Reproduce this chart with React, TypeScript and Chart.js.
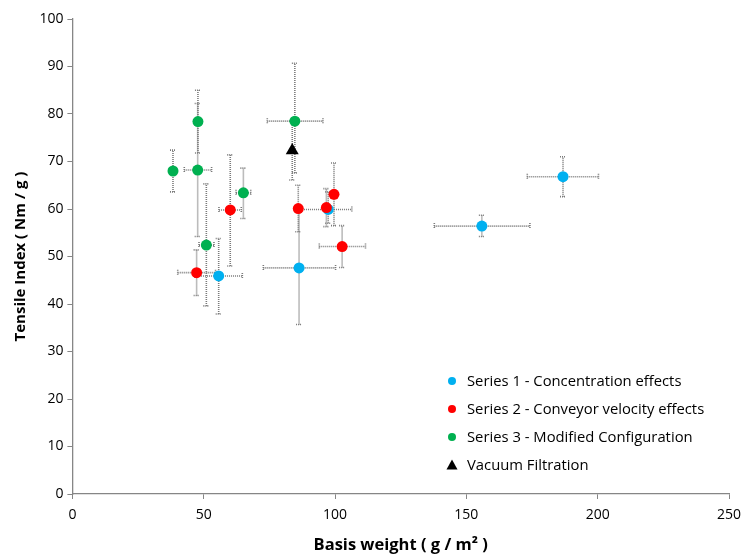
import React, { useEffect, useRef } from "react";
import { Chart, registerables } from "chart.js";

Chart.register(...registerables);

// ---- Data ----
// Series 1 - Concentration effects
const s1X = [186.8, 155.9, 86.3, 55.7, 97.4];
const s1Y = [66.8, 56.4, 47.6, 45.9, 59.9];
const s1XMin = [173.2, 137.8, 72.7, 46.7, 87.4];
const s1XMax = [200.3, 174.2, 100.2, 64.7, 106.4];
const s1YMin = [62.6, 54.2, 35.7, 37.9, 57.0];
const s1YMax = [71.0, 58.7, 59.5, 53.8, 63.6];

// Series 2 - Conveyor velocity effects
const s2X = [47.3, 60.1, 86.0, 96.7, 99.6, 102.7];
const s2Y = [46.6, 59.8, 60.1, 60.3, 63.1, 52.1];
const s2XMin = [40.1, 55.8, 85.0, 95.7, 98.6, 94.0];
const s2XMax = [54.5, 64.3, 87.0, 97.7, 100.6, 111.6];
const s2YMin = [41.8, 48.0, 55.2, 56.3, 56.5, 47.7];
const s2YMax = [51.4, 71.4, 65.0, 64.3, 69.7, 56.5];

// Series 3 - Modified Configuration
const s3X = [38.3, 47.7, 47.8, 51.0, 65.1, 84.7];
const s3Y = [68.0, 68.2, 78.4, 52.4, 63.4, 78.5];
const s3XMin = [37.3, 42.6, 46.8, 48.2, 62.3, 74.2];
const s3XMax = [39.3, 53.0, 48.8, 53.9, 67.9, 95.4];
const s3YMin = [63.6, 54.2, 71.8, 39.6, 58.0, 67.6];
const s3YMax = [72.4, 82.2, 85.0, 65.3, 68.6, 90.7];

// Vacuum Filtration
const vfX = [83.7];
const vfY = [72.3];
const vfXMin = [83.7];
const vfXMax = [83.7];
const vfYMin = [66.1];
const vfYMax = [78.5];

const xTicks = [0, 50, 100, 150, 200, 250];
const yTicks = [0, 10, 20, 30, 40, 50, 60, 70, 80, 90, 100];

const legendLabels = [
  "Series 1 - Concentration effects",
  "Series 2 - Conveyor velocity effects",
  "Series 3 - Modified Configuration",
  "Vacuum Filtration",
];

const FONT = "'Open Sans', 'Liberation Sans', sans-serif";

function build(xs: number[], ys: number[], xmin: number[], xmax: number[], ymin: number[], ymax: number[]) {
  return xs.map((x, i) => ({ x, y: ys[i], xMin: xmin[i], xMax: xmax[i], yMin: ymin[i], yMax: ymax[i] }));
}

const errorBarPlugin = {
  id: "errorBars",
  beforeDatasetsDraw(chart: any) {
    const ctx = chart.ctx;
    const xs = chart.scales.x;
    const ys = chart.scales.y;
    ctx.save();
    ctx.strokeStyle = "#7a7a7a";
    ctx.lineWidth = 1.6;
    ctx.setLineDash([1, 1]);
    const cap = 3;
    chart.data.datasets.forEach((ds: any) => {
      ds.data.forEach((p: any) => {
        const px = xs.getPixelForValue(p.x);
        const py = ys.getPixelForValue(p.y);
        const x0 = xs.getPixelForValue(p.xMin);
        const x1 = xs.getPixelForValue(p.xMax);
        const y0 = ys.getPixelForValue(p.yMin);
        const y1 = ys.getPixelForValue(p.yMax);
        ctx.beginPath();
        if (Math.abs(x1 - x0) > 1) {
          ctx.moveTo(x0, py);
          ctx.lineTo(x1, py);
          ctx.moveTo(x0, py - cap);
          ctx.lineTo(x0, py + cap);
          ctx.moveTo(x1, py - cap);
          ctx.lineTo(x1, py + cap);
        }
        if (Math.abs(y1 - y0) > 1) {
          ctx.moveTo(px, y0);
          ctx.lineTo(px, y1);
          ctx.moveTo(px - cap, y0);
          ctx.lineTo(px + cap, y0);
          ctx.moveTo(px - cap, y1);
          ctx.lineTo(px + cap, y1);
        }
        ctx.stroke();
      });
    });
    ctx.restore();
  },
};

const legendPlugin = {
  id: "customLegend",
  afterDraw(chart: any) {
    const ctx = chart.ctx;
    const colors = ["#00B0F0", "#FF0000", "#00B050", "#000000"];
    const x0 = 452;
    const yStart = 381;
    const gap = 28;
    ctx.save();
    ctx.font = `14.8px ${FONT}`;
    ctx.textBaseline = "middle";
    ctx.textAlign = "left";
    legendLabels.forEach((label, i) => {
      const y = yStart + i * gap;
      ctx.fillStyle = colors[i];
      ctx.beginPath();
      if (i < 3) {
        ctx.arc(x0, y, 4, 0, Math.PI * 2);
      } else {
        ctx.moveTo(x0, y - 5.5);
        ctx.lineTo(x0 + 5.5, y + 4.5);
        ctx.lineTo(x0 - 5.5, y + 4.5);
        ctx.closePath();
      }
      ctx.fill();
      ctx.fillStyle = "#000000";
      ctx.fillText(label, 467, y + 0.5);
    });
    ctx.restore();
  },
};

export default function App() {
  const ref = useRef<HTMLCanvasElement | null>(null);
  useEffect(() => {
    if (!ref.current) return;
    const pointBase = { pointRadius: 5.5, pointHoverRadius: 5.5, showLine: false, borderWidth: 0 };
    const chart = new Chart(ref.current, {
      type: "scatter",
      data: {
        datasets: [
          { label: legendLabels[0], order: 3, data: build(s1X, s1Y, s1XMin, s1XMax, s1YMin, s1YMax), backgroundColor: "#00B0F0", borderColor: "#00B0F0", ...pointBase },
          { label: legendLabels[1], order: 2, data: build(s2X, s2Y, s2XMin, s2XMax, s2YMin, s2YMax), backgroundColor: "#FF0000", borderColor: "#FF0000", ...pointBase },
          { label: legendLabels[2], order: 1, data: build(s3X, s3Y, s3XMin, s3XMax, s3YMin, s3YMax), backgroundColor: "#00B050", borderColor: "#00B050", ...pointBase },
          { label: legendLabels[3], order: 0, data: build(vfX, vfY, vfXMin, vfXMax, vfYMin, vfYMax), backgroundColor: "#000000", borderColor: "#000000", pointStyle: "triangle", ...pointBase, pointRadius: 7.5 },
        ] as any,
      },
      options: {
        animation: false,
        responsive: false,
        layout: { padding: { left: 8, right: 14, top: 19, bottom: 0 } },
        plugins: { legend: { display: false }, tooltip: { enabled: false } },
        scales: {
          x: {
            type: "linear",
            min: 0,
            max: 250,
            afterBuildTicks: (s: any) => { s.ticks = xTicks.map((v) => ({ value: v })); },
            afterFit: (s: any) => { s.height = 62; s.paddingRight = 0; s.paddingLeft = 0; },
            grid: { display: true, drawOnChartArea: false, drawTicks: true, tickLength: 5, color: "#868686" },
            border: { display: true, color: "#868686", width: 1.3 },
            ticks: { color: "#000", font: { family: FONT, size: 14 }, padding: 8 },
            title: { display: true, text: "Basis weight ( g / m² )", color: "#000", font: { family: FONT, size: 16.5, weight: "bold" }, padding: { top: 0, bottom: 1 } },
          },
          y: {
            type: "linear",
            min: 0,
            max: 100,
            afterBuildTicks: (s: any) => { s.ticks = yTicks.map((v) => ({ value: v })); },
            afterFit: (s: any) => { s.width = 64.4; s.paddingTop = 0; s.paddingBottom = 0; },
            grid: { display: true, drawOnChartArea: false, drawTicks: true, tickLength: 5, color: "#868686" },
            border: { display: true, color: "#868686", width: 1.3 },
            ticks: { color: "#000", font: { family: FONT, size: 14 }, padding: 4 },
            title: { display: true, text: "Tensile Index ( Nm / g )", color: "#000", font: { family: FONT, size: 15, weight: "bold" }, padding: { top: 4, bottom: 0 } },
          },
        },
      } as any,
      plugins: [errorBarPlugin, legendPlugin],
    });
    return () => chart.destroy();
  }, []);
  return (
    <div style={{ position: "fixed", left: 0, top: 0, width: 743, height: 556, background: "#fff" }}>
      <canvas ref={ref} width={743} height={556} />
    </div>
  );
}
